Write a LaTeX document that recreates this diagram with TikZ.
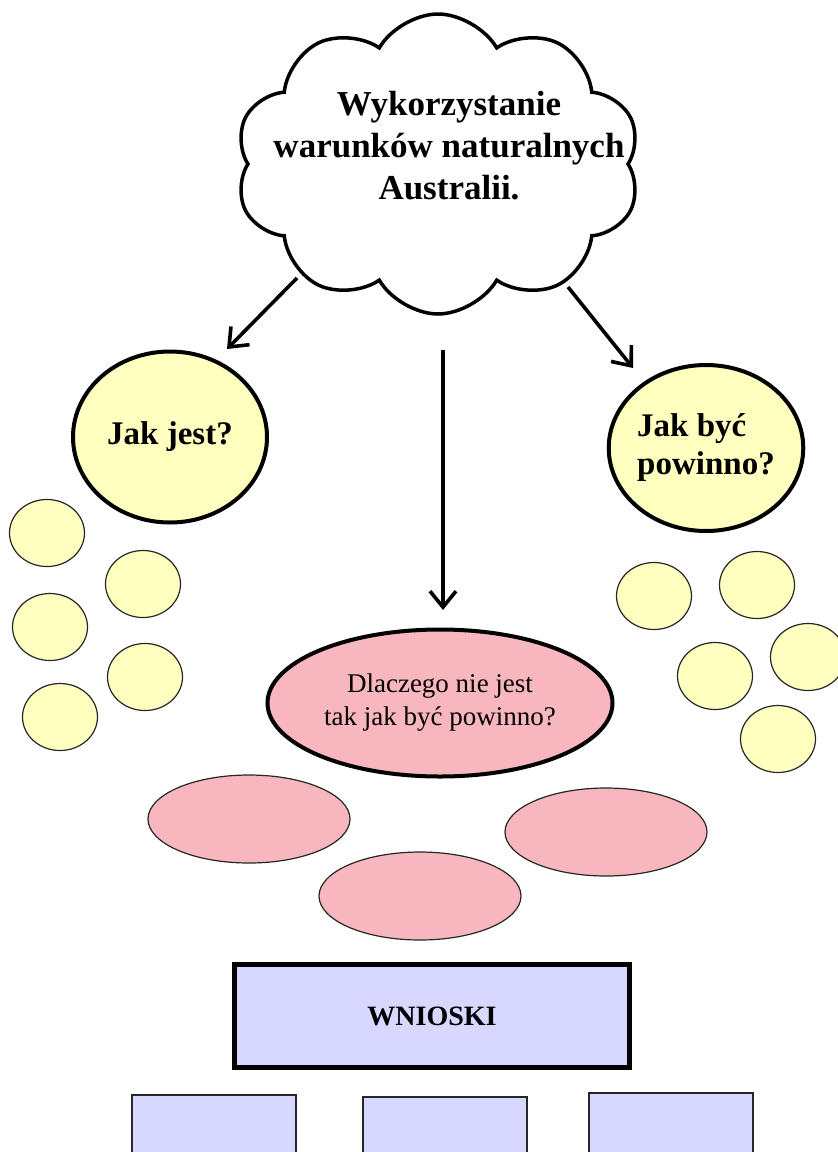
\documentclass[tikz,border=0pt]{standalone}
\usepackage{fontspec}
\setmainfont{Liberation Serif}
\usetikzlibrary{shapes.symbols,shapes.geometric,arrows.meta}
\definecolor{zolty}{HTML}{FFFFC0}
\definecolor{rozowy}{HTML}{F8B6BE}
\definecolor{fiolet}{HTML}{D7D7FF}
\tikzset{
  chmura/.style={cloud, cloud puffs=10, cloud puff arc=120, cloud ignores aspect, draw, line width=3.5pt, fill=white, minimum width=405pt, minimum height=300pt},
  pytanie/.style={ellipse, draw, line width=4pt, fill=zolty, inner sep=0pt, align=left, font=\bfseries\fontsize{33}{38}\selectfont},
  kolko/.style={ellipse, draw=black!85, line width=1.2pt, fill=zolty, minimum width=75pt, minimum height=67pt},
  powod/.style={ellipse, draw=black!85, line width=1.2pt, fill=rozowy, minimum width=202pt, minimum height=88pt},
  wniosek/.style={rectangle, draw=black!85, line width=1.5pt, fill=fiolet, anchor=north, minimum width=164pt, minimum height=80pt},
  strzalka/.style={line width=3.6pt, -{Straight Barb[length=16pt,width=26pt]}},
}
\begin{document}
\begin{tikzpicture}[x=1pt,y=-1pt]
\path[use as bounding box] (0,0) rectangle (838,1152);
\clip (0,0) rectangle (838,1152);
% chmura z tematem
\node[chmura] (cloud) at (438,164) {};
\node[align=center, font=\bfseries\fontsize{35}{42}\selectfont] (temat) at (449,146) {Wykorzystanie\\warunków naturalnych\\Australii.};
% pytania
\node[pytanie, minimum width=194pt, minimum height=171pt] (jest) at (170,437) {Jak jest?};
\node[pytanie, minimum width=192pt, minimum height=166pt] (powinno) at (706,448) {Jak być\\powinno?};
\node[ellipse, draw, line width=4pt, fill=rozowy, inner sep=0pt, minimum width=345pt, minimum height=147pt, align=center, font=\fontsize{27}{33}\selectfont] (dlaczego) at (440,703) {Dlaczego nie jest\\tak jak być powinno?};
% strzalki
\coordinate (s1) at (297,278);
\coordinate (e1) at (227,349);
\coordinate (s2) at (443,350);
\coordinate (e2) at (443,610);
\coordinate (s3) at (568,287);
\coordinate (e3) at (633,368);
\draw[strzalka] (s1) -- (e1);
\draw[strzalka] (s2) -- (e2);
\draw[strzalka] (s3) -- (e3);
% male kolka
\foreach \n/\x/\y in {1/47/533, 2/143/584, 3/50/627, 4/145/677, 5/60/717}
  \node[kolko] (jest\n) at (\x,\y) {};
\foreach \n/\x/\y in {1/654/596, 2/757/585, 3/715/676, 4/808/657, 5/778/739}
  \node[kolko] (powinno\n) at (\x,\y) {};
% powody
\node[powod] (powod1) at (249,819) {};
\node[powod] (powod2) at (606,832) {};
\node[powod] (powod3) at (420,896) {};
% wnioski
\node[rectangle, draw, line width=5pt, fill=fiolet, minimum width=395pt, minimum height=103pt, font=\bfseries\fontsize{28}{32}\selectfont] (wnioski) at (432,1016) {WNIOSKI};
\node[wniosek] (wniosek1) at (214,1094) {};
\node[wniosek] (wniosek2) at (445,1096) {};
\node[wniosek] (wniosek3) at (671,1092) {};
\end{tikzpicture}
\end{document}
